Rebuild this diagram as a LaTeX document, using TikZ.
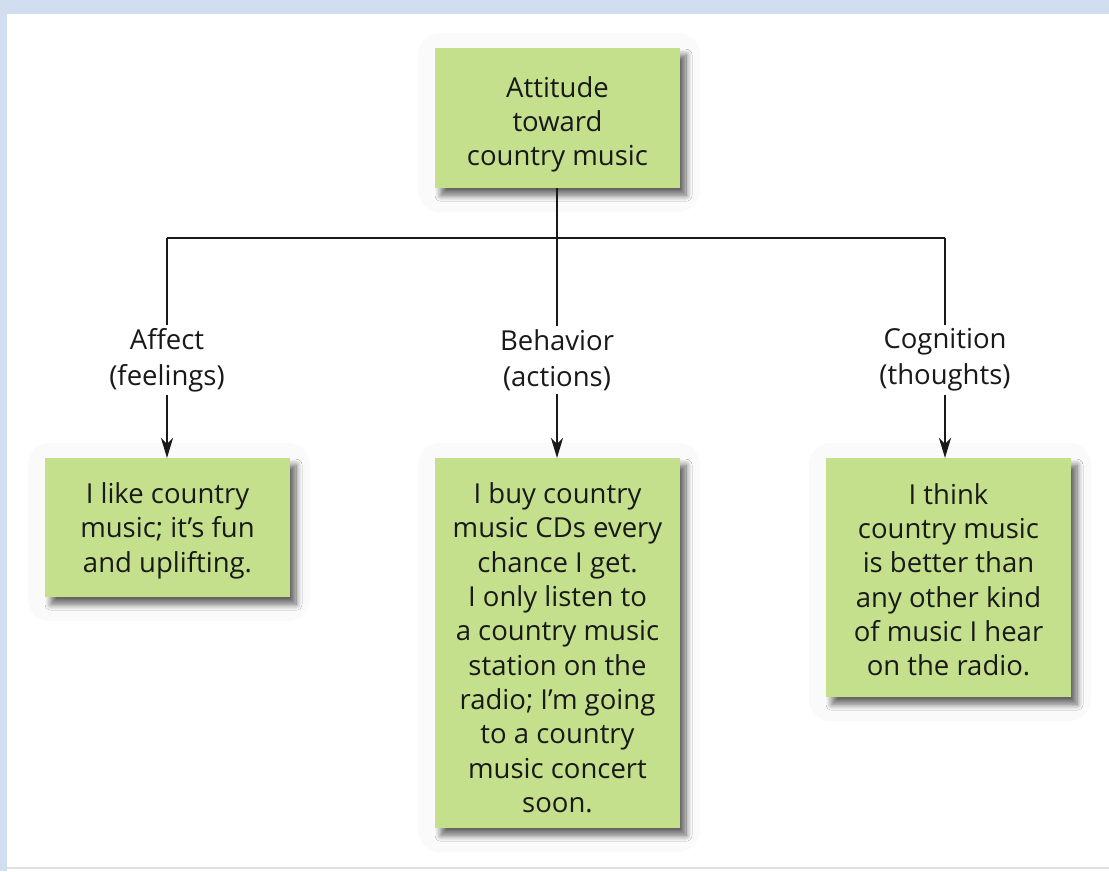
\documentclass[tikz,border=0pt]{standalone}
\usepackage{fontspec}
\setmainfont{Open Sans}
\usetikzlibrary{arrows.meta,shadows.blur}
\definecolor{boxgreen}{RGB}{197,224,140}
\definecolor{framefill}{RGB}{208,222,240}
\definecolor{txt}{RGB}{25,25,25}
\definecolor{glow}{RGB}{250,250,250}
\newcommand{\boxtext}[2]{\parbox{245pt}{\vspace*{#1}\centering #2}}
\tikzset{
  greenbox/.style={draw=none, fill=boxgreen, text=txt, minimum width=245pt,
    align=center, font=\fontsize{27.5}{34.3}\selectfont, inner sep=0pt,
    blur shadow={shadow xshift=6pt, shadow yshift=-7pt, shadow blur steps=10,
      shadow blur radius=6pt, shadow opacity=60}},
  glowbox/.style={fill=glow, draw=none, rounded corners=22pt},
  lbl/.style={text=txt, align=center, font=\fontsize{27.5}{36}\selectfont, inner sep=3pt},
  conn/.style={draw=black!90, line width=2.1pt},
  arr/.style={conn, -{Stealth[length=20pt,width=12pt,inset=6pt]}}
}
\begin{document}
\begin{tikzpicture}[x=1pt,y=-1pt]
\useasboundingbox (0,0) rectangle (1109,871);
\fill[white] (0,0) rectangle (1109,871);
% frame
\fill[framefill] (0,0) rectangle (1109,14);
\fill[framefill] (0,0) rectangle (7,871);
\fill[black!12] (7,867) rectangle (1109,869);
% glows
\fill[glowbox] (418,33) rectangle (700,212);
\fill[glowbox] (28,443) rectangle (310,621);
\fill[glowbox] (418,443) rectangle (700,852);
\fill[glowbox] (809,443) rectangle (1091,721);
% boxes
\node[greenbox, anchor=north, minimum height=140pt] (top) at (557.5,48)
  {\boxtext{12pt}{Attitude\\toward\\country music}};
\node[greenbox, anchor=north, minimum height=139pt] (aff) at (167.5,458)
  {\boxtext{6pt}{I like country\\music; it’s fun\\and uplifting.}};
\node[greenbox, anchor=north, minimum height=370pt] (beh) at (557.5,458)
  {\boxtext{9pt}{I buy country\\music CDs every\\chance I get.\\I only listen to\\a country music\\station on the\\radio; I’m going\\to a country\\music concert\\soon.}};
\node[greenbox, anchor=north, minimum height=239pt] (cog) at (948.5,458)
  {\boxtext{4pt}{I think\\country music\\is better than\\any other kind\\of music I hear\\on the radio.}};
% labels
\node[lbl] (laff) at (167,360) {Affect\\(feelings)};
\node[lbl] (lbeh) at (557,360) {Behavior\\(actions)};
\node[lbl] (lcog) at (945,360) {Cognition\\(thoughts)};
% connectors
\coordinate (jl) at (167,238);
\coordinate (jm) at (557,238);
\coordinate (jr) at (945,238);
\draw[conn] (top.south -| jm) -- (jm);
\draw[conn] (jl) -- (jr);
\draw[conn] (jl) -- (laff.north);
\draw[conn] (jm) -- (lbeh.north);
\draw[conn] (jr) -- (lcog.north);
\draw[arr] (laff.south) -- (laff.south |- aff.north);
\draw[arr] (lbeh.south) -- (lbeh.south |- beh.north);
\draw[arr] (lcog.south) -- (lcog.south |- cog.north);
\end{tikzpicture}
\end{document}
